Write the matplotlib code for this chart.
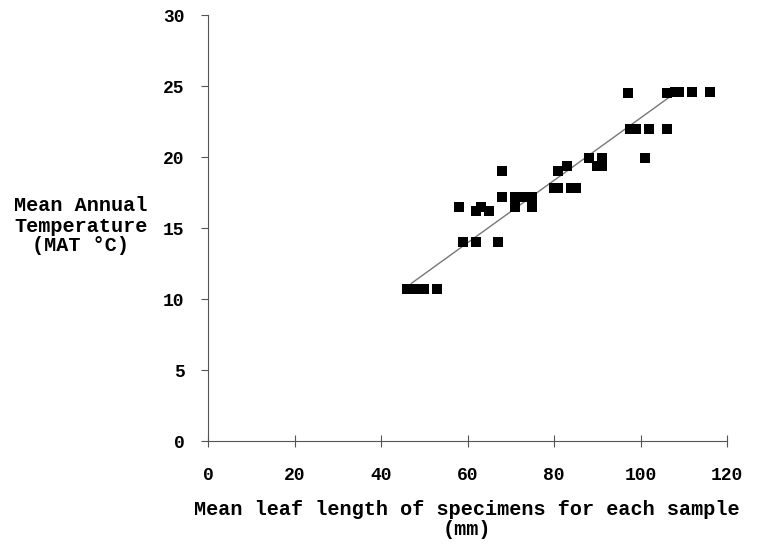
import numpy as np
import matplotlib.pyplot as plt

# leaf length (mm) vs mean annual temperature (C)
leaf_len = [46, 47.5, 48.5, 50, 53,
            59, 62, 67,
            58, 62, 63, 65,
            68, 71, 73, 74, 75,
            71, 75,
            68,
            80, 81, 84, 85,
            81, 83,
            88, 90, 91, 91, 101,
            97.5, 99, 102, 106,
            97, 106, 108, 109, 112, 116]
mat = [10.7, 10.7, 10.7, 10.7, 10.7,
       14.0, 14.0, 14.0,
       16.5, 16.2, 16.5, 16.2,
       17.2, 17.2, 17.2, 17.2, 17.2,
       16.5, 16.5,
       19.0,
       17.8, 17.8, 17.8, 17.8,
       19.0, 19.4,
       19.9, 19.4, 19.4, 19.9, 19.9,
       22.0, 22.0, 22.0, 22.0,
       24.5, 24.5, 24.6, 24.6, 24.6, 24.6]

fit_x = [47, 107.5]
fit_y = [11.1, 24.4]

xticks = [0, 20, 40, 60, 80, 100, 120]
yticks = [0, 5, 10, 15, 20, 25, 30]

ylabel_lines = ['Mean Annual', 'Temperature', '(MAT \u00b0C)']
xlabel_lines = ['Mean leaf length of specimens for each sample', '(mm)']

plt.rcParams['font.family'] = ['Liberation Mono', 'DejaVu Sans Mono']
plt.rcParams['font.weight'] = 'bold'

fig = plt.figure(figsize=(7.63, 5.46), dpi=100)
ax = fig.add_axes([0.2726, 0.1923, 0.6803, 0.7802])

ax.plot(fit_x, fit_y, color='#777777', lw=1.0, zorder=1)
ax.scatter(leaf_len, mat, marker='s', s=45, color='black', zorder=2, linewidths=0)

ax.set_xlim(0, 120)
ax.set_ylim(0, 30)
ax.set_xticks(xticks)
ax.set_yticks(yticks)
ax.spines['top'].set_visible(False)
ax.spines['right'].set_visible(False)
ax.spines['left'].set_color('#555555')
ax.spines['bottom'].set_color('#555555')
ax.tick_params(axis='x', direction='inout', length=8, width=0.8, color='#555555',
               labelsize=13, pad=15)
ax.tick_params(axis='y', direction='out', length=5, width=0.8, color='#555555',
               labelsize=13, pad=12)
for lab in ax.get_xticklabels() + ax.get_yticklabels():
    lab.set_fontweight('bold')

# axis titles, one line at a time
for txt, yy in zip(ylabel_lines, [0.623, 0.586, 0.551]):
    fig.text(0.106, yy, txt, ha='center', va='center', fontsize=14.5, fontweight='bold')
for txt, yy in zip(xlabel_lines, [0.066, 0.031]):
    fig.text(0.612, yy, txt, ha='center', va='center', fontsize=14.5, fontweight='bold')

fig.savefig('out.png', dpi=100)
